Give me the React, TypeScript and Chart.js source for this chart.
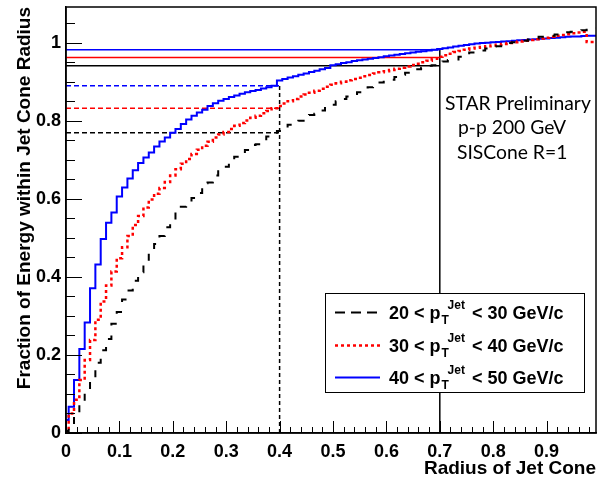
import React, { useEffect, useRef } from 'react';
import { Chart, registerables } from 'chart.js';

Chart.register(...registerables);

// ---- data ----
// histogram bin edges (bin width 0.01, first edge at 0.005)
const binEdges: number[] = Array.from({ length: 99 }, (_, k) => Math.round((0.005 + 0.01 * k) * 1000) / 1000);
const histStart = 0;
const histEnd = 0.995;

const frac20to30 = [
  0.005, 0.022, 0.044, 0.077, 0.103, 0.137, 0.180, 0.212, 0.241, 0.280,
  0.310, 0.342, 0.365, 0.390, 0.412, 0.440, 0.462, 0.484, 0.505, 0.527,
  0.547, 0.567, 0.580, 0.592, 0.602, 0.615, 0.640, 0.642, 0.660, 0.679,
  0.682, 0.695, 0.708, 0.712, 0.725, 0.738, 0.740, 0.750, 0.760, 0.769,
  0.774, 0.781, 0.790, 0.792, 0.800, 0.808, 0.815, 0.818, 0.826, 0.838,
  0.841, 0.850, 0.856, 0.862, 0.864, 0.873, 0.885, 0.886, 0.893, 0.898,
  0.903, 0.905, 0.912, 0.918, 0.923, 0.925, 0.932, 0.936, 0.941, 0.942,
  0.948, 0.952, 0.956, 0.957, 0.964, 0.969, 0.975, 0.976, 0.980, 0.985,
  0.990, 0.991, 0.996, 0.999, 1.001, 1.004, 1.005, 1.008, 1.011, 1.015,
  1.016, 1.018, 1.021, 1.025, 1.027, 1.028, 1.030, 1.032, 1.038,
];

const frac30to40 = [
  0.008, 0.050, 0.085, 0.136, 0.187, 0.238, 0.290, 0.337, 0.378, 0.414,
  0.448, 0.476, 0.505, 0.533, 0.556, 0.578, 0.598, 0.613, 0.628, 0.643,
  0.660, 0.676, 0.690, 0.702, 0.715, 0.726, 0.736, 0.746, 0.757, 0.765,
  0.771, 0.779, 0.787, 0.794, 0.801, 0.808, 0.813, 0.819, 0.825, 0.832,
  0.838, 0.844, 0.850, 0.856, 0.862, 0.867, 0.872, 0.877, 0.882, 0.887,
  0.892, 0.896, 0.900, 0.904, 0.907, 0.910, 0.914, 0.917, 0.921, 0.924,
  0.927, 0.930, 0.933, 0.936, 0.939, 0.943, 0.946, 0.950, 0.954, 0.959,
  0.964, 0.968, 0.972, 0.976, 0.979, 0.982, 0.985, 0.987, 0.989, 0.991,
  0.993, 0.995, 0.997, 0.999, 1.001, 1.003, 1.005, 1.007, 1.009, 1.011,
  1.013, 1.015, 1.018, 1.020, 1.022, 1.024, 1.026, 1.028, 1.002,
];

const frac40to50 = [
  0.033, 0.067, 0.136, 0.215, 0.283, 0.371, 0.432, 0.497, 0.539, 0.565,
  0.606, 0.629, 0.652, 0.673, 0.692, 0.706, 0.719, 0.734, 0.747, 0.757,
  0.769, 0.779, 0.792, 0.803, 0.813, 0.821, 0.828, 0.838, 0.845, 0.851,
  0.856, 0.861, 0.865, 0.869, 0.873, 0.876, 0.879, 0.883, 0.886, 0.890,
  0.903, 0.907, 0.911, 0.914, 0.918, 0.921, 0.925, 0.928, 0.932, 0.935,
  0.942, 0.945, 0.948, 0.950, 0.953, 0.955, 0.957, 0.959, 0.961, 0.963,
  0.965, 0.967, 0.969, 0.971, 0.973, 0.975, 0.977, 0.978, 0.980, 0.982,
  0.984, 0.986, 0.988, 0.990, 0.992, 0.994, 0.996, 0.998, 0.999, 1.000,
  1.001, 1.002, 1.003, 1.004, 1.005, 1.006, 1.007, 1.008, 1.009, 1.010,
  1.011, 1.012, 1.013, 1.014, 1.015, 1.016, 1.016, 1.017, 1.018,
];

// reference lines: levels at R = 0.4 and R = 0.7 (20-30, 30-40, 40-50)
const cutRadii = [0.4, 0.7];
const levelsAt04 = [0.769, 0.832, 0.890];
const levelsAt07 = [0.941, 0.962, 0.982];

const seriesColors = ['#000000', '#ff0000', '#0000ff'];
const legendLead = ['20 < p', '30 < p', '40 < p'];
const legendSub = 'T';
const legendSup = 'Jet';
const legendTail = [' < 30 GeV/c', ' < 40 GeV/c', ' < 50 GeV/c'];
const infoLines = ['STAR Preliminary', 'p-p 200 GeV', 'SISCone R=1'];

const xMax = 0.9925;
const yMax = 1.0915;
const xTickStep = 0.1;
const yTickStep = 0.2;
const xMinorStep = 0.02;
const yMinorStep = 0.05;
const xTitle = 'Radius of Jet Cone';
const yTitle = 'Fraction of Energy within Jet Cone Radius';

const SANS = "'Liberation Sans', Arial, Helvetica, sans-serif";

function histPoints(vals: number[]) {
  return [
    { x: histStart, y: 0 },
    ...binEdges.map((x, i) => ({ x, y: vals[i] })),
    { x: histEnd, y: vals[vals.length - 1] },
  ];
}

const dashes: number[][] = [[7, 10], [3, 3], []];
const widths = [2, 2.5, 2];

const extrasPlugin = {
  id: 'extras',
  afterDraw(chart: any) {
    const { ctx, chartArea: ca } = chart;
    const xs = chart.scales.x;
    const ys = chart.scales.y;
    ctx.save();
    // frame
    ctx.strokeStyle = '#000';
    ctx.lineWidth = 1.5;
    ctx.setLineDash([]);
    ctx.strokeRect(ca.left, ca.top, ca.right - ca.left, ca.bottom - ca.top);
    // inward ticks
    ctx.lineWidth = 1;
    ctx.beginPath();
    for (let i = 0; i * xMinorStep <= xs.max + 1e-9; i++) {
      const px = Math.round(xs.getPixelForValue(i * xMinorStep)) + 0.5;
      const len = i % 5 === 0 ? 12 : 6;
      ctx.moveTo(px, ca.bottom);
      ctx.lineTo(px, ca.bottom - len);
    }
    for (let i = 0; i * yMinorStep <= ys.max + 1e-9; i++) {
      const py = Math.round(ys.getPixelForValue(i * yMinorStep)) + 0.5;
      const len = i % 4 === 0 ? 16 : 9;
      ctx.moveTo(ca.left, py);
      ctx.lineTo(ca.left + len, py);
    }
    ctx.stroke();

    // info text
    ctx.fillStyle = '#000';
    ctx.textBaseline = 'alphabetic';
    ctx.textAlign = 'left';
    ctx.font = `20px Lato, 'Liberation Sans', sans-serif`;
    const w0 = ctx.measureText(infoLines[0]).width;
    const fs = 20 * 146 / w0;
    ctx.font = `${fs}px Lato, 'Liberation Sans', sans-serif`;
    const infoX = [445, 458, 457];
    const infoY = [110, 134, 159];
    infoLines.forEach((t, i) => ctx.fillText(t, infoX[i], infoY[i]));

    // legend box
    const bx = 325.5, by = 293.5, bw = 259, bh = 99;
    ctx.fillStyle = '#fff';
    ctx.fillRect(bx, by, bw, bh);
    ctx.strokeStyle = '#000';
    ctx.lineWidth = 1;
    ctx.strokeRect(bx, by, bw, bh);
    const rowY = [312, 345, 377];
    for (let i = 0; i < 3; i++) {
      const cy = rowY[i];
      ctx.strokeStyle = seriesColors[i];
      ctx.lineWidth = widths[i];
      ctx.setLineDash(i === 0 ? [10, 6] : dashes[i]);
      ctx.beginPath();
      ctx.moveTo(335, cy + 0.5);
      ctx.lineTo(380, cy + 0.5);
      ctx.stroke();
      ctx.setLineDash([]);
      ctx.fillStyle = '#000';
      ctx.font = `bold 18px ${SANS}`;
      let x = 389;
      const base = cy + 6.5;
      ctx.fillText(legendLead[i], x, base);
      x += ctx.measureText(legendLead[i]).width + 1;
      ctx.font = `bold 12px ${SANS}`;
      ctx.fillText(legendSub, x, base + 5);
      const wSub = ctx.measureText(legendSub).width;
      ctx.fillText(legendSup, x + 6, base - 10);
      const wSup = ctx.measureText(legendSup).width + 6;
      x += Math.max(wSub, wSup) + 2;
      ctx.font = `bold 18px ${SANS}`;
      ctx.fillText(legendTail[i], x, base);
    }
    ctx.restore();
  },
};

function hLine(y: number, x1: number, color: string, dash: number[]) {
  return {
    data: [{ x: 0, y }, { x: x1, y }],
    borderColor: color,
    borderWidth: 1.5,
    borderDash: dash,
    pointRadius: 0,
    fill: false,
  };
}

export default function App() {
  const ref = useRef<HTMLCanvasElement>(null);
  useEffect(() => {
    const curves = [frac20to30, frac30to40, frac40to50].map((vals, i) => ({
      data: histPoints(vals),
      borderColor: seriesColors[i],
      borderWidth: widths[i],
      borderDash: dashes[i],
      stepped: 'after' as const,
      pointRadius: 0,
      fill: false,
    }));
    const refs = [
      ...levelsAt07.map((v, i) => hLine(v, cutRadii[1], seriesColors[i], [])),
      ...levelsAt04.map((v, i) => hLine(v, cutRadii[0], seriesColors[i], [5, 3])),
      {
        data: [{ x: cutRadii[1], y: 0 }, { x: cutRadii[1], y: Math.max(...levelsAt07) }],
        borderColor: '#000', borderWidth: 1.5, borderDash: [], pointRadius: 0, fill: false,
      },
      {
        data: [{ x: cutRadii[0], y: 0 }, { x: cutRadii[0], y: Math.max(...levelsAt04) }],
        borderColor: '#000', borderWidth: 1.5, borderDash: [4, 3], pointRadius: 0, fill: false,
      },
    ];
    const chart = new Chart(ref.current as HTMLCanvasElement, {
      type: 'line',
      data: { datasets: [...curves, ...refs] as any },
      options: {
        animation: false,
        responsive: false,
        events: [],
        layout: { padding: { top: 7, right: 11, left: 0, bottom: 0 } },
        plugins: { legend: { display: false }, tooltip: { enabled: false } },
        elements: { line: { tension: 0 } },
        scales: {
          x: {
            type: 'linear',
            min: 0,
            max: xMax,
            grid: { display: false, drawTicks: false },
            border: { display: true, color: '#000', width: 1.5 },
            ticks: {
              stepSize: xTickStep,
              includeBounds: false,
              autoSkip: false,
              maxRotation: 0,
              padding: 8,
              color: '#000',
              font: { family: SANS, size: 18, weight: 'bold' },
              callback: (v: any) => String(Number(Number(v).toFixed(1))),
            },
            title: {
              display: true,
              text: xTitle,
              align: 'end',
              color: '#000',
              font: { family: SANS, size: 19, weight: 'bold' },
              padding: { top: 0, bottom: 5 },
            },
            afterFit: (s: any) => {
              s.height = 52;
              s.paddingLeft = 0;
              s.paddingRight = 0;
            },
          },
          y: {
            type: 'linear',
            min: 0,
            max: yMax,
            grid: { display: false, drawTicks: false },
            border: { display: true, color: '#000', width: 1.5 },
            ticks: {
              stepSize: yTickStep,
              includeBounds: false,
              autoSkip: false,
              padding: 5,
              color: '#000',
              font: { family: SANS, size: 18, weight: 'bold' },
              callback: (v: any) => String(Number(Number(v).toFixed(1))),
            },
            title: {
              display: true,
              text: yTitle,
              align: 'end',
              color: '#000',
              font: { family: SANS, size: 19, weight: 'bold' },
              padding: { top: 13, bottom: 0 },
            },
            afterFit: (s: any) => {
              s.width = 66;
              s.paddingTop = 0;
              s.paddingBottom = 0;
            },
          },
        },
      } as any,
      plugins: [extrasPlugin],
    });
    return () => chart.destroy();
  }, []);
  return (
    <div style={{ position: 'fixed', left: 0, top: 0, width: 607, height: 485, background: '#fff' }}>
      <canvas ref={ref} width={607} height={485} style={{ display: 'block', width: 607, height: 485 }} />
    </div>
  );
}
